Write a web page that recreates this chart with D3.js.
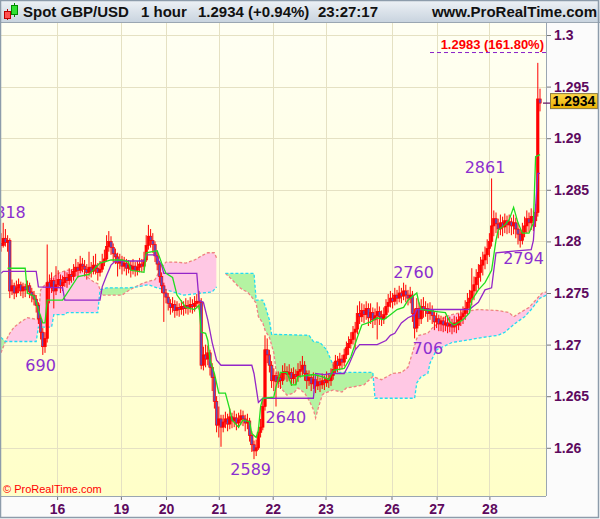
<!DOCTYPE html>
<meta charset="utf-8">
<html>
<style type='text/css'>
  body { margin:0; background:#fff; }
  svg text { font-family: "Liberation Sans", Arial, sans-serif; }
</style>
<script src="https://d3js.org/d3.v7.min.js"></script>
<body>
<svg id="chart" width="600" height="519"></svg>

<script>

// ---- data (prices in pips above 1.0000, i.e. 2796 = 1.2796) ----
var firstOpen = 2798;

var closes = [
  2796,2803,2799,2801,2752,2757,2750,2755,2758,2752, 2756,2753,2757,2751,2748,2744,2738,2725,2712,2698,
  2706,2760,2755,2762,2752,2758,2763,2757,2760,2765, 2762,2768,2766,2771,2775,2772,2778,2776,2773,2770,
  2775,2771,2777,2774,2770,2773,2780,2783,2795,2800, 2794,2788,2785,2779,2782,2776,2779,2774,2777,2773,
  2776,2772,2775,2778,2776,2782,2796,2805,2801,2797, 2786,2778,2766,2757,2750,2746,2740,2736,2739,2733,
  2736,2734,2737,2735,2738,2736,2739,2737,2740,2742, 2741,2680,2690,2686,2692,2678,2668,2645,2622,2628,
  2620,2625,2628,2623,2630,2626,2629,2624,2627,2631, 2628,2624,2626,2612,2603,2597,2600,2615,2620,2640,
  2695,2690,2680,2665,2670,2664,2668,2665,2672,2674, 2671,2673,2667,2671,2669,2674,2676,2680,2672,2665,
  2668,2662,2666,2660,2664,2661,2665,2663,2667,2665, 2670,2676,2684,2680,2686,2683,2690,2697,2701,2705,
  2712,2715,2730,2727,2733,2729,2735,2726,2731,2724, 2728,2732,2727,2725,2729,2737,2741,2745,2742,2748,
  2745,2750,2747,2752,2748,2745,2748,2730,2716,2735, 2725,2737,2733,2735,2730,2734,2728,2722,2725,2720,
  2723,2719,2721,2718,2720,2717,2721,2719,2724,2727, 2730,2735,2741,2745,2752,2758,2765,2770,2777,2782,
  2787,2793,2800,2815,2822,2817,2812,2818,2814,2820, 2816,2819,2815,2818,2812,2807,2801,2809,2815,2822,
  2818,2824,2820,2828,2938,2934
];

var highs = [
  2808,2818,2812,2806,2803,2763,2760,2762,2764,2761, 2760,2759,2762,2760,2755,2752,2748,2741,2729,2716,
  2712,2797,2768,2770,2765,2776,2772,2768,2767,2771, 2770,2774,2773,2778,2783,2780,2786,2784,2782,2778,
  2790,2780,2786,2788,2779,2781,2788,2792,2806,2810, 2805,2798,2793,2789,2788,2786,2785,2783,2782,2781,
  2783,2780,2781,2784,2783,2790,2806,2816,2812,2808, 2800,2790,2781,2770,2760,2754,2750,2744,2746,2743,
  2742,2740,2743,2742,2745,2743,2746,2744,2747,2749, 2752,2745,2698,2700,2699,2695,2682,2672,2650,2640,
  2632,2632,2635,2633,2638,2634,2636,2633,2634,2637, 2636,2632,2633,2629,2616,2607,2608,2620,2628,2648,
  2709,2706,2695,2684,2677,2673,2674,2672,2680,2682, 2679,2681,2677,2678,2676,2682,2684,2689,2684,2675,
  2675,2671,2673,2670,2671,2668,2672,2670,2674,2672, 2677,2683,2690,2689,2692,2690,2696,2703,2708,2712,
  2718,2722,2738,2742,2740,2739,2742,2740,2740,2736, 2735,2741,2737,2733,2736,2744,2749,2752,2750,2755,
  2753,2757,2755,2760,2758,2753,2756,2752,2735,2745, 2741,2744,2746,2742,2740,2741,2738,2732,2731,2729,
  2728,2727,2728,2726,2727,2725,2728,2727,2730,2734, 2737,2743,2750,2753,2774,2766,2773,2778,2785,2790,
  2795,2802,2808,2861,2830,2828,2822,2826,2824,2827, 2825,2826,2823,2826,2823,2818,2812,2818,2824,2830,
  2828,2832,2830,2836,2973,2948
];

var lows = [
  2790,2794,2795,2790,2745,2748,2744,2746,2750,2747, 2745,2746,2749,2745,2741,2738,2731,2720,2705,2690,
  2692,2702,2740,2750,2735,2748,2755,2750,2752,2756, 2755,2758,2760,2762,2766,2765,2769,2770,2766,2763,
  2766,2765,2768,2768,2762,2766,2770,2776,2780,2790, 2787,2780,2778,2766,2773,2768,2771,2767,2769,2765,
  2768,2766,2767,2770,2770,2772,2780,2792,2794,2789, 2780,2772,2760,2750,2722,2740,2733,2729,2731,2726,
  2728,2727,2729,2728,2730,2729,2731,2730,2732,2735, 2734,2676,2675,2678,2680,2670,2655,2638,2615,2610,
  2601,2615,2619,2616,2618,2619,2620,2617,2619,2622, 2621,2616,2618,2606,2596,2589,2592,2598,2610,2617,
  2636,2682,2673,2658,2655,2640,2658,2657,2661,2666, 2664,2665,2660,2662,2661,2664,2668,2670,2665,2657,
  2660,2655,2657,2653,2656,2654,2657,2656,2659,2658, 2660,2666,2672,2673,2675,2676,2679,2686,2690,2696,
  2700,2695,2710,2720,2722,2721,2724,2718,2720,2716, 2719,2705,2719,2718,2720,2725,2731,2736,2735,2738,
  2739,2741,2740,2743,2741,2738,2740,2722,2706,2712, 2718,2720,2726,2727,2722,2724,2720,2714,2716,2713,
  2713,2712,2713,2711,2712,2710,2712,2711,2714,2718, 2720,2724,2729,2733,2738,2743,2749,2754,2761,2767,
  2773,2778,2785,2795,2805,2808,2803,2806,2805,2808, 2807,2808,2806,2807,2803,2797,2794,2797,2804,2808,
  2809,2811,2810,2814,2824,2926
];

// Ichimoku lines, [bar, pips]
var tenkan = [
  [3,2774],[11,2774],[12,2750],[15,2747],[19,2721],[20,2721],[21,2743],[28,2743],[35,2766],[40,2768],
  [45,2779],[50,2782],[55,2782],[58,2780],[59,2772],[65,2770],[66,2789],[71,2791],[73,2779],[75,2769],
  [78,2765],[80,2748],[84,2736],[88,2734],[90,2738],[91,2712],[93,2711],[94,2704],[95,2685],[97,2672],
  [99,2653],[102,2653],[104,2637],[105,2627],[108,2620],[110,2627],[113,2625],[114,2614],[116,2610],[117,2617],
  [118,2640],[119,2648],[124,2649],[125,2659],[127,2673],[130,2673],[132,2661],[134,2661],[135,2669],[142,2671],
  [146,2669],[149,2666],[151,2675],[156,2677],[159,2688],[162,2707],[164,2719],[168,2722],[171,2726],[174,2724],
  [177,2729],[180,2734],[183,2736],[185,2743],[189,2750],[190,2740],[191,2734],[198,2732],[202,2731],[204,2722],
  [206,2719],[210,2724],[213,2731],[214,2743],[217,2753],[220,2760],[223,2772],[225,2801],[226,2811],[229,2816],
  [231,2821],[233,2833],[235,2818],[237,2808],[240,2808],[242,2818],[243,2882],[245,2884]
];

var kijun = [
  [0,2769],[1,2771],[16,2771],[17,2756],[28,2755],[29,2743],[45,2743],[46,2756],[48,2767],[50,2777],
  [52,2781],[65,2781],[66,2787],[70,2787],[73,2777],[74,2769],[89,2769],[90,2743],[92,2741],[94,2724],
  [96,2702],[98,2685],[100,2680],[114,2680],[115,2672],[117,2644],[119,2648],[142,2648],[143,2672],[147,2671],
  [150,2672],[156,2672],[158,2680],[161,2695],[163,2700],[171,2700],[175,2704],[177,2709],[179,2711],[182,2721],
  [185,2726],[188,2729],[189,2734],[213,2734],[214,2736],[217,2741],[220,2753],[223,2755],[225,2789],[241,2792],
  [242,2801],[244,2866],[245,2866]
];

// cloud: two segments (gap between bar 98 and bar 102)
var spanA1 = [
  [0,2707],[2,2703],[16,2703],[17,2717],[23,2717],[24,2729],[29,2729],[30,2731],[44,2731],[45,2753],
  [48,2755],[58,2755],[62,2756],[67,2758],[71,2755],[75,2753],[80,2750],[83,2748],[96,2751],[98,2756]
];
var spanB1 = [
  [0,2692],[2,2703],[4,2711],[6,2717],[9,2722],[12,2726],[15,2725],[17,2724],[18,2753],[22,2763],
  [27,2770],[30,2772],[36,2774],[39,2766],[42,2761],[44,2759],[46,2748],[50,2748],[55,2748],[57,2751],
  [61,2756],[65,2760],[70,2763],[73,2775],[75,2780],[79,2780],[84,2779],[88,2782],[92,2787],[94,2789],
  [97,2789],[98,2784]
];
var spanA2 = [
  [102,2769],[115,2769],[116,2743],[119,2743],[120,2738],[122,2724],[123,2710],[140,2709],[142,2703],[145,2702],
  [148,2695],[151,2680],[153,2673],[169,2673],[170,2648],[188,2648],[189,2663],[191,2669],[194,2672],[195,2682],
  [198,2695],[205,2702],[211,2704],[219,2707],[226,2709],[229,2712],[234,2721],[238,2727],[241,2734],[245,2745],
  [248,2748]
];
var spanB2 = [
  [102,2769],[105,2763],[108,2756],[110,2753],[112,2751],[114,2746],[116,2740],[117,2727],[119,2721],[120,2714],
  [122,2707],[124,2692],[125,2675],[126,2663],[128,2656],[130,2651],[133,2653],[135,2658],[138,2653],[140,2646],
  [142,2637],[143,2629],[144,2637],[146,2651],[147,2653],[151,2656],[155,2654],[157,2658],[160,2659],[165,2661],
  [169,2669],[173,2666],[178,2672],[182,2673],[185,2678],[187,2692],[189,2706],[190,2709],[194,2711],[196,2716],
  [202,2727],[205,2729],[211,2732],[217,2734],[226,2733],[231,2731],[233,2727],[236,2731],[240,2736],[243,2743],
  [246,2750],[248,2751]
];

// extreme labels
var labelTexts  = ["2818", "690", "2589", "2640", "2760", "706", "2861", "2794"];
var labelBars   = [2, 18, 113.5, 129.5, 187.5, 194, 220, 237.5];
var labelValues = [2818, 2690, 2589, 2640, 2760, 2706, 2861, 2794];
var labelSides  = [1, -1, -1, -1, 1, -1, 1, -1];   // 1 above the high, -1 below the low

// axes
var priceTicks = [1.26, 1.265, 1.27, 1.275, 1.28, 1.285, 1.29, 1.295, 1.30];
var dayTickBars = [25.5, 54.5, 75, 99, 123.5, 147.5, 177.5, 198, 222];
var dayLabels = ["16", "19", "20", "21", "22", "23", "26", "27", "28"];

var fibValue = 2983, fibText = "1.2983 (161.80%)", fibStartBar = 195;
var lastPrice = "1.2934";

// ---- layout ----
var plot = {left: 0, top: 23, right: 546, bottom: 496};
var svg = d3.select("#chart");
var defs = svg.append("defs");

var hg = defs.append("linearGradient").attr("id", "hdr").attr("x1", 0).attr("x2", 0).attr("y1", 0).attr("y2", 1);
hg.append("stop").attr("offset", "0%").attr("stop-color", "#eef2f6");
hg.append("stop").attr("offset", "100%").attr("stop-color", "#c9d4df");

var bg = defs.append("linearGradient").attr("id", "bg").attr("x1", 0).attr("x2", 0).attr("y1", 0).attr("y2", 1);
bg.append("stop").attr("offset", "0%").attr("stop-color", "#fffff3");
bg.append("stop").attr("offset", "100%").attr("stop-color", "#ffffc8");

var pg = defs.append("linearGradient").attr("id", "pbox").attr("x1", 0).attr("x2", 0).attr("y1", 0).attr("y2", 1);
pg.append("stop").attr("offset", "0%").attr("stop-color", "#ffd84a");
pg.append("stop").attr("offset", "100%").attr("stop-color", "#e9b000");

defs.append("clipPath").attr("id", "plotclip").append("rect")
  .attr("x", plot.left).attr("y", plot.top)
  .attr("width", plot.right - plot.left).attr("height", plot.bottom - plot.top);

var px = function(v) { return 1 + v / 10000; };

var x = d3.scaleLinear().domain([0, 245]).range([1, 540]);
var y = d3.scaleLinear().domain([1.26, 1.30]).range([447.8, 35]);

// backgrounds
svg.append("rect").attr("width", 600).attr("height", 519).attr("fill", "#fbfbfb");
svg.append("rect").attr("x", plot.left).attr("y", plot.top)
  .attr("width", plot.right - plot.left).attr("height", plot.bottom - plot.top)
  .attr("fill", "url(#bg)");

// grid
var grid = svg.append("g").attr("clip-path", "url(#plotclip)");
grid.selectAll("line.h").data(priceTicks).enter().append("line")
  .attr("x1", plot.left).attr("x2", plot.right)
  .attr("y1", function(d) { return Math.round(y(d)) + 0.5; })
  .attr("y2", function(d) { return Math.round(y(d)) + 0.5; })
  .attr("stroke", "#e5e1c3").attr("stroke-width", 1);
grid.selectAll("line.v").data(dayTickBars).enter().append("line")
  .attr("y1", plot.top).attr("y2", plot.bottom)
  .attr("x1", function(d) { return Math.round(x(d)) + 0.5; })
  .attr("x2", function(d) { return Math.round(x(d)) + 0.5; })
  .attr("stroke", "#e5e1c3").attr("stroke-width", 1);

var g = svg.append("g").attr("clip-path", "url(#plotclip)");

// ---- cloud ----
function pts(arr) {
  return arr.map(function(d) { return [x(d[0]), y(px(d[1]))]; });
}
function drawCloud(A, B, id) {
  var pa = pts(A), pb = pts(B);
  var poly = pa.concat(pb.slice().reverse());
  var x0 = pb[0][0], x1 = pb[pb.length - 1][0];
  defs.append("clipPath").attr("id", "above" + id).append("path")
    .attr("d", d3.line()(pb.concat([[x1, -100], [x0, -100]])) + "Z");
  defs.append("clipPath").attr("id", "below" + id).append("path")
    .attr("d", d3.line()(pb.concat([[x1, 700], [x0, 700]])) + "Z");
  g.append("path").attr("d", d3.line()(poly) + "Z")
    .attr("fill", "#b4f3a2").attr("clip-path", "url(#above" + id + ")");
  g.append("path").attr("d", d3.line()(poly) + "Z")
    .attr("fill", "#ffc8e4").attr("clip-path", "url(#below" + id + ")");
  g.append("path").attr("d", d3.line()(pb))
    .attr("fill", "none").attr("stroke", "#f08282").attr("stroke-width", 1.3).attr("stroke-dasharray", "3,2");
  g.append("path").attr("d", d3.line()(pa))
    .attr("fill", "none").attr("stroke", "#22dcf2").attr("stroke-width", 1.3).attr("stroke-dasharray", "3,2");
}
drawCloud(spanA1, spanB1, "1");
drawCloud(spanA2, spanB2, "2");

// ---- candles ----
var bars = closes.map(function(c, i) {
  var o = i ? closes[i - 1] : firstOpen;
  return { i: i, o: px(o), c: px(c),
           h: px(Math.max(highs[i], o, c)), l: px(Math.min(lows[i], o, c)) };
});

var cg = g.append("g");
cg.selectAll("line").data(bars).enter().append("line")
  .attr("x1", function(d) { return x(d.i); })
  .attr("x2", function(d) { return x(d.i); })
  .attr("y1", function(d) { return y(d.h); })
  .attr("y2", function(d) { return y(d.l); })
  .attr("stroke", "#ff0000").attr("stroke-width", 1);
cg.selectAll("rect").data(bars).enter().append("rect")
  .attr("x", function(d) { return x(d.i) - 1.2; })
  .attr("width", 2.4)
  .attr("y", function(d) { return y(Math.max(d.o, d.c)); })
  .attr("height", function(d) { return Math.max(1, Math.abs(y(d.o) - y(d.c))); })
  .attr("fill", function(d) { return d.c >= d.o ? "#ff0000" : "#5a4ec0"; })
  .attr("stroke", "#ff0000").attr("stroke-width", 0.7);

// ---- tenkan / kijun ----
g.append("path").attr("d", d3.line()(pts(kijun)))
  .attr("fill", "none").attr("stroke", "#9426c8").attr("stroke-width", 1.3);
g.append("path").attr("d", d3.line()(pts(tenkan)))
  .attr("fill", "none").attr("stroke", "#20dd20").attr("stroke-width", 1.3);

// fibonacci level
g.append("line")
  .attr("x1", x(fibStartBar)).attr("x2", plot.right)
  .attr("y1", y(px(fibValue))).attr("y2", y(px(fibValue)))
  .attr("stroke", "#8a20c8").attr("stroke-width", 1).attr("stroke-dasharray", "4,3");
g.append("text").attr("x", plot.right - 2).attr("y", y(px(fibValue)) - 4)
  .attr("text-anchor", "end").attr("font-size", 13).attr("font-weight", "bold")
  .attr("fill", "#ff0000").text(fibText);

// extreme labels
g.selectAll("text.lab").data(labelTexts).enter().append("text")
  .attr("class", "lab")
  .attr("x", function(d, i) { return x(labelBars[i]); })
  .attr("y", function(d, i) {
    var v = y(px(labelValues[i]));
    return labelSides[i] > 0 ? v - 5 : v + 16;
  })
  .attr("text-anchor", "middle")
  .style("font-family", "'DejaVu Sans', Verdana, sans-serif")
  .attr("font-size", 16).attr("fill", "#8c2fcf")
  .text(function(d) { return d; });

// copyright
svg.append("text").attr("x", 3).attr("y", 493)
  .attr("font-size", 11).attr("fill", "#ff0000").text("\u00a9 ProRealTime.com");

// ---- axes ----
var yAxis = svg.append("g").attr("transform", "translate(" + plot.right + ",0)")
  .call(d3.axisRight(y).tickValues(priceTicks).tickSize(5).tickPadding(3)
    .tickFormat(d3.format(".4~f")));
var xAxis = svg.append("g").attr("transform", "translate(0," + plot.bottom + ")")
  .call(d3.axisBottom(x).tickValues(dayTickBars).tickSize(4).tickPadding(4)
    .tickFormat(function(d, i) { return dayLabels[i]; }));
[yAxis, xAxis].forEach(function(a) {
  a.select(".domain").remove();
  a.selectAll(".tick line").attr("stroke", "#777");
  a.selectAll(".tick text").attr("fill", "#5e0a5e")
    .style("font-family", "'Liberation Sans', Arial, sans-serif")
    .attr("font-size", 14).attr("font-weight", "bold");
});

// plot borders
svg.append("line").attr("x1", plot.right + 0.5).attr("x2", plot.right + 0.5)
  .attr("y1", plot.top).attr("y2", plot.bottom).attr("stroke", "#9aa6b2");
svg.append("line").attr("x1", 0).attr("x2", plot.right)
  .attr("y1", plot.bottom + 0.5).attr("y2", plot.bottom + 0.5).attr("stroke", "#9aa6b2");

// last price box
var ly = y(+lastPrice);
svg.append("line").attr("x1", plot.right - 3).attr("x2", plot.right + 5)
  .attr("y1", ly).attr("y2", ly).attr("stroke", "#5e0a5e").attr("stroke-width", 1.2);
svg.append("rect").attr("x", 550.5).attr("y", ly - 9.5).attr("width", 47).attr("height", 15)
  .attr("fill", "url(#pbox)").attr("stroke", "#8a7a40");
svg.append("text").attr("x", 574).attr("y", ly + 3)
  .attr("text-anchor", "middle").attr("font-size", 14).attr("font-weight", "bold")
  .attr("fill", "#000").text(lastPrice);

// ---- header ----
svg.append("rect").attr("width", 600).attr("height", 22).attr("fill", "url(#hdr)");
svg.append("line").attr("x1", 0).attr("x2", 600).attr("y1", 22.5).attr("y2", 22.5).attr("stroke", "#9aa6b2");
var icon = svg.append("g");
icon.append("line").attr("x1", 7.5).attr("x2", 7.5).attr("y1", 9).attr("y2", 20).attr("stroke", "#b00");
icon.append("rect").attr("x", 4.5).attr("y", 11.5).attr("width", 6).attr("height", 7).attr("fill", "#ff5050").attr("stroke", "#b00");
icon.append("line").attr("x1", 14.5).attr("x2", 14.5).attr("y1", 3).attr("y2", 17).attr("stroke", "#080");
icon.append("rect").attr("x", 11.5).attr("y", 5.5).attr("width", 6).attr("height", 9).attr("fill", "#30e030").attr("stroke", "#080");

var headerParts = [["Spot GBP/USD", 23], ["1 hour", 141], ["1.2934 (+0.94%)", 198], ["23:27:17", 318]];
svg.selectAll("text.hdr").data(headerParts).enter().append("text")
  .attr("x", function(d) { return d[1]; }).attr("y", 17)
  .attr("font-size", 15).attr("font-weight", "bold").attr("fill", "#111")
  .text(function(d) { return d[0]; });
svg.append("text").attr("x", 597).attr("y", 17).attr("text-anchor", "end")
  .attr("font-size", 15).attr("font-weight", "bold").attr("fill", "#111")
  .text("www.ProRealTime.com");

// outer frame
svg.append("rect").attr("x", 0.5).attr("y", 0.5).attr("width", 598).attr("height", 517)
  .attr("fill", "none").attr("stroke", "#8d9cab").attr("stroke-width", 1.5);

</script>
</body>
</html>
